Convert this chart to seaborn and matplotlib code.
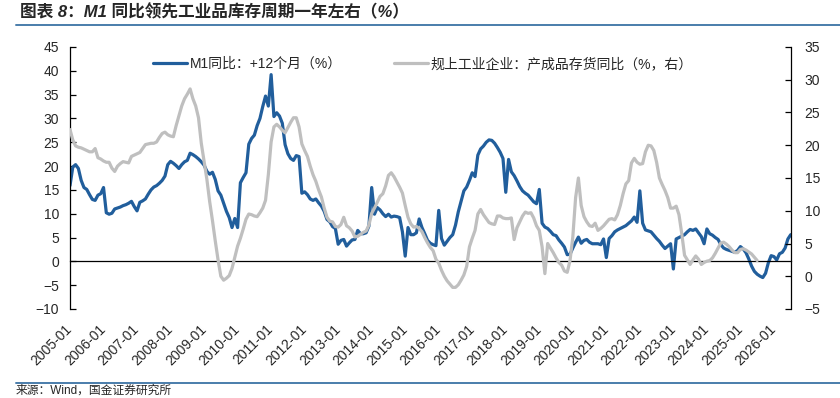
import numpy as np
import pandas as pd
import matplotlib.pyplot as plt
from matplotlib.lines import Line2D
import seaborn as sns

# 月度序列起点
start_month = "2005-01"

# M1同比，前移12个月（%，左轴）
m1_lead = [
    15.9, 19.8, 20.3, 19.5, 17.0, 15.5, 15.1, 14.0, 13.0, 12.8, 13.9, 14.2,  # 2005
    15.5, 10.2, 9.9, 10.1, 11.0, 11.2, 11.4, 11.7, 11.9, 12.2, 12.6, 11.5,   # 2006
    10.6, 12.4, 12.7, 13.1, 14.1, 15.0, 15.6, 15.9, 16.4, 17.0, 17.9, 20.3,  # 2007
    21.0, 20.6, 20.1, 19.5, 20.3, 20.9, 21.2, 22.7, 22.4, 22.0, 21.5, 20.9,  # 2008
    20.2, 18.9, 18.3, 18.7, 17.2, 14.8, 13.9, 12.2, 10.5, 9.2, 7.1, 9.0,     # 2009
    7.1, 16.5, 17.6, 18.6, 24.6, 25.8, 26.5, 28.5, 30.0, 32.5, 34.7, 32.6,   # 2010
    39.2, 30.4, 31.2, 30.5, 29.0, 24.5, 22.6, 21.6, 21.2, 22.2, 22.0, 14.3,  # 2011
    14.6, 14.0, 13.1, 12.8, 13.1, 12.3, 11.6, 10.5, 8.8, 8.3, 7.3, 6.9,      # 2012
    3.6, 4.4, 4.6, 3.2, 3.9, 4.5, 4.6, 6.5, 5.8, 5.8, 6.0, 7.4,              # 2013
    15.5, 9.9, 11.3, 10.8, 10.0, 9.4, 9.9, 9.3, 9.5, 9.4, 9.2, 6.2,          # 2014
    1.1, 7.1, 5.6, 5.6, 6.0, 8.9, 7.1, 5.8, 4.4, 3.8, 3.5, 3.3,              # 2015
    10.7, 4.8, 3.4, 4.2, 5.0, 5.6, 7.6, 10.4, 12.6, 14.8, 15.6, 17.0,        # 2016
    18.6, 17.8, 22.3, 23.6, 24.2, 25.0, 25.5, 25.4, 24.8, 23.9, 22.9, 21.6,  # 2017
    14.5, 21.4, 18.8, 18.0, 16.9, 15.7, 14.8, 14.3, 13.9, 13.2, 12.5, 12.1,  # 2018
    15.1, 8.0, 7.2, 6.9, 6.3, 5.6, 5.4, 4.5, 3.8, 3.0, 1.4, 1.5,             # 2019
    2.8, 4.0, 5.1, 3.8, 4.4, 4.6, 4.0, 3.7, 3.7, 3.7, 3.5, 4.7,              # 2020
    0.8, 4.8, 5.4, 6.2, 6.6, 6.9, 7.2, 7.5, 8.0, 8.5, 9.3, 8.2,              # 2021
    14.8, 8.0, 6.6, 6.4, 6.2, 5.5, 4.8, 4.2, 3.4, 2.7, 3.2, 3.7,             # 2022
    -1.6, 4.7, 5.0, 5.3, 5.6, 6.2, 6.7, 6.5, 6.8, 6.0, 5.2, 3.7,             # 2023
    6.8, 5.8, 5.5, 5.0, 4.6, 3.5, 2.8, 2.5, 2.3, 2.1, 1.9, 2.3,              # 2024
    3.1, 2.6, 1.8, 0.5, -1.0, -2.1, -2.7, -3.1, -3.4, -2.5, -0.3, 1.2,       # 2025
    1.0, 0.3, 1.6, 1.9, 2.8, 4.7, 5.6,                                       # 2026
]

# 规上工业企业：产成品存货同比（%，右轴）
inventory = [
    22.4, 20.8, 19.9, 19.7, 19.6, 19.4, 19.2, 19.0, 19.0, 19.5, 18.1, 17.9,  # 2005
    17.6, 17.4, 17.4, 16.5, 16.0, 16.8, 17.2, 17.5, 17.4, 17.3, 18.3, 18.5,  # 2006
    18.7, 18.9, 19.5, 20.1, 20.2, 20.3, 20.3, 20.5, 21.2, 21.8, 22.0, 21.6,  # 2007
    21.4, 21.3, 23.0, 24.5, 26.0, 27.1, 27.8, 28.6, 27.1, 26.0, 24.2, 20.3,  # 2008
    17.6, 14.8, 11.4, 8.5, 5.4, 2.5, 0.0, -0.6, -0.3, 0.1, 1.2, 2.9,         # 2009
    4.6, 5.8, 7.2, 8.7, 9.5, 9.4, 9.2, 9.1, 9.7, 10.4, 11.6, 15.5,           # 2010
    20.5, 22.8, 23.2, 22.8, 22.3, 21.9, 22.7, 23.5, 24.2, 24.2, 22.8, 20.2,  # 2011
    19.2, 18.3, 16.8, 15.5, 14.5, 13.2, 12.1, 10.4, 9.0, 8.4, 8.3, 7.6,      # 2012
    7.5, 7.9, 9.0, 7.7, 7.4, 6.9, 6.0, 6.1, 6.4, 6.7, 6.9, 7.8,              # 2013
    9.6, 10.4, 11.3, 12.2, 12.6, 13.8, 15.4, 15.8, 15.2, 14.4, 13.6, 12.7,   # 2014
    10.8, 9.0, 8.0, 7.5, 7.6, 7.3, 6.8, 5.9, 5.1, 4.4, 3.9, 2.6,             # 2015
    2.0, 0.9, 0.0, -0.7, -1.2, -1.7, -1.7, -1.3, -0.6, 0.2, 1.5, 4.5,        # 2016
    5.8, 7.0, 9.5, 10.2, 9.4, 8.8, 8.2, 8.0, 7.9, 9.2, 9.2, 8.9,             # 2017
    8.8, 8.8, 8.9, 5.6, 7.4, 8.3, 9.2, 9.8, 9.6, 9.7, 8.9, 7.7,              # 2018
    7.0, 4.5, 0.4, 5.0, 4.3, 3.6, 2.8, 2.1, 1.7, 0.8, 0.6, 2.4,              # 2019
    6.0, 12.0, 15.0, 10.8, 9.1, 8.3, 7.7, 7.6, 8.1, 7.0, 7.3, 7.7,           # 2020
    8.2, 8.7, 8.8, 8.6, 9.4, 10.8, 12.6, 14.1, 14.6, 17.3, 18.0, 17.4,       # 2021
    17.1, 17.2, 19.0, 20.0, 19.9, 19.2, 17.4, 15.0, 14.0, 13.1, 12.0, 10.4,  # 2022
    10.4, 10.7, 9.4, 6.5, 3.2, 2.5, 1.8, 2.5, 3.1, 2.6, 1.8, 2.1,            # 2023
    2.3, 2.4, 2.8, 3.5, 4.3, 5.1, 5.2, 4.9, 4.5, 4.0, 3.6, 3.6,              # 2024
    4.1, 4.2, 4.0, 3.7, 3.4, 2.9, 2.4,                                       # 2025
]

label_m1 = "M1同比：+12个月（%）"
label_inv = "规上工业企业：产成品存货同比（%，右）"
title = "图表 8：M1 同比领先工业品库存周期一年左右（%）"
source = "来源：Wind，国金证券研究所"

blue = "#215E9C"
gray = "#BFBFBF"
rule_color = "#4A7DAB"

sns.set_style("white")
plt.rcParams["font.family"] = ["Liberation Sans", "Noto Sans CJK SC", "DejaVu Sans"]
plt.rcParams["font.size"] = 10

months = pd.date_range(start_month, periods=len(m1_lead), freq="MS").strftime("%Y-%m")
df_m1 = pd.DataFrame({"idx": np.arange(len(m1_lead)), "value": m1_lead})
df_inv = pd.DataFrame({"idx": np.arange(len(inventory)), "value": inventory})
tick_pos = [i for i, m in enumerate(months) if m.endswith("-01")]
tick_labels = [months[i] for i in tick_pos]

fig = plt.figure(figsize=(8.4, 3.98), dpi=100)
ax = fig.add_axes([70 / 840, 1 - 309 / 398, 720.7 / 840, 262 / 398])
ax2 = ax.twinx()

sns.lineplot(data=df_m1, x="idx", y="value", ax=ax, color=blue, lw=2.3, label=label_m1)
sns.lineplot(data=df_inv, x="idx", y="value", ax=ax2, color=gray, lw=2.3, label=label_inv)

h1, l1 = ax.get_legend_handles_labels()
h2, l2 = ax2.get_legend_handles_labels()
for a in (ax, ax2):
    if a.get_legend() is not None:
        a.get_legend().remove()
ax2.legend(h1 + h2, l1 + l2, loc="center", bbox_to_anchor=(423 / 840, 1 - 64 / 398),
           bbox_transform=fig.transFigure, frameon=False, ncol=2, fontsize=10,
           handlelength=2.4, handletextpad=0.2, columnspacing=3.8)

ax.set_xlim(0, len(m1_lead) - 1)
ax.set_ylim(-10, 45)
ax.set_yticks(range(-10, 50, 5))
ax2.set_ylim(-5, 35)
ax2.set_yticks(range(-5, 40, 5))
for a in (ax, ax2):
    a.set_xlabel("")
    a.set_ylabel("")

# 坐标轴：零线作为横轴
ax.spines["bottom"].set_position(("data", 0))
ax.spines["top"].set_visible(False)
ax.spines["right"].set_visible(False)
ax2.spines["top"].set_visible(False)
ax2.spines["bottom"].set_visible(False)
ax2.spines["left"].set_visible(False)
for sp in (ax.spines["bottom"], ax.spines["left"], ax2.spines["right"]):
    sp.set_color("black")
    sp.set_linewidth(0.9)

ax.set_xticks(tick_pos)
ax.tick_params(axis="x", direction="in", length=4, width=0.9, color="black", labelbottom=False)
ax.tick_params(axis="y", direction="in", length=4, width=0.9, color="black", pad=8, labelsize=10)
ax2.tick_params(axis="y", direction="in", length=4, width=0.9, color="black", pad=10, labelsize=10)

sec = ax.secondary_xaxis("bottom")
sec.set_xticks(tick_pos)
sec.set_xticklabels(tick_labels)
sec.spines["bottom"].set_visible(False)
sec.tick_params(axis="x", length=0, pad=13, labelsize=10)
for lab in sec.get_xticklabels():
    lab.set_rotation(45)
    lab.set_ha("right")
    lab.set_va("center")
    lab.set_rotation_mode("anchor")

# 标题、分隔线、来源
fig.text(20 / 840, 1 - 12 / 398, title, fontsize=12, fontweight="bold", style="italic", va="center")
fig.add_artist(Line2D([16 / 840, 1], [1 - 25 / 398, 1 - 25 / 398], color=rule_color, lw=1.4))
fig.add_artist(Line2D([16 / 840, 1], [1 - 383 / 398, 1 - 383 / 398], color=rule_color, lw=1.4))
fig.text(16 / 840, 1.5 / 398, source, fontsize=8.5, va="bottom")

fig.savefig("out.png", dpi=100)
